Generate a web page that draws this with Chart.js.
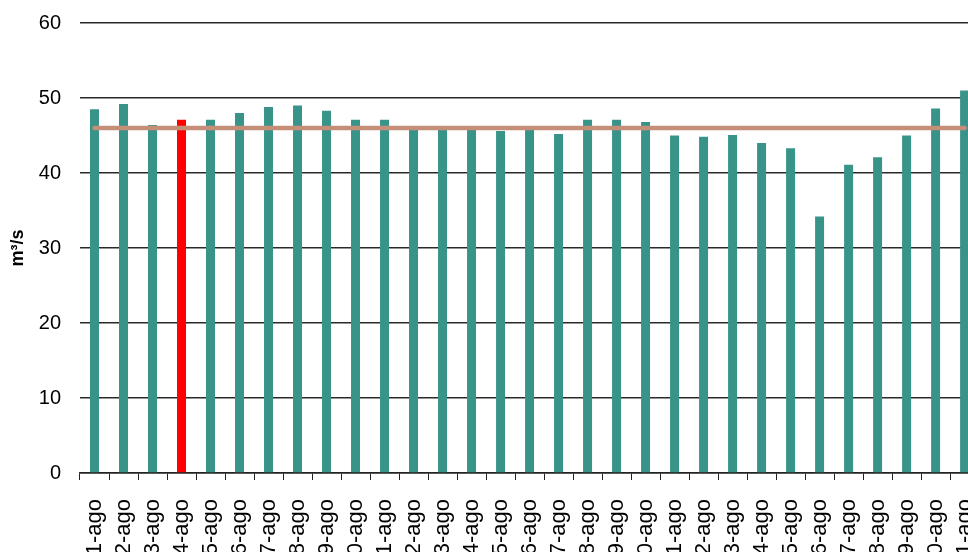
<!DOCTYPE html>
<html>
<head>
<meta charset="utf-8">
<script src="https://cdn.jsdelivr.net/npm/chart.js@4"></script>
<style>
  html, body { margin: 0; padding: 0; overflow: hidden; background: #ffffff; }
  #wrap { position: absolute; left: 0; top: 0; width: 1010px; height: 560px; }
</style>
</head>
<body>
<div id="wrap"><canvas id="chart"></canvas></div>
<script>
// Daily flow for August (m³/s)
const days = [
  '1-ago', '2-ago', '3-ago', '4-ago', '5-ago', '6-ago', '7-ago', '8-ago',
  '9-ago', '10-ago', '11-ago', '12-ago', '13-ago', '14-ago', '15-ago', '16-ago',
  '17-ago', '18-ago', '19-ago', '20-ago', '21-ago', '22-ago', '23-ago', '24-ago',
  '25-ago', '26-ago', '27-ago', '28-ago', '29-ago', '30-ago', '31-ago'
];
const dailyFlow = [
  48.5, 49.2, 46.4, 47.1, 47.1, 48.0, 48.8, 49.0,
  48.3, 47.1, 47.1, 45.8, 45.8, 45.8, 45.6, 45.8,
  45.2, 47.1, 47.1, 46.8, 45.0, 44.85, 45.07, 44.0,
  43.3, 34.2, 41.1, 42.1, 45.0, 48.6, 51.0
];
const highlightedDay = '4-ago';
const referenceFlow = 46;
const yTicks = [0, 10, 20, 30, 40, 50, 60];

const barColors = days.map(d => d === highlightedDay ? '#ff0000' : '#389488');
const referenceLine = days.map(() => referenceFlow);

const font = 'Liberation Sans, Arial, Helvetica, sans-serif';

new Chart(document.getElementById('chart'), {
  type: 'bar',
  data: {
    labels: days,
    datasets: [
      {
        type: 'line',
        data: referenceLine,
        borderColor: 'rgb(197,142,120)',
        borderWidth: 4.5,
        borderCapStyle: 'round',
        pointRadius: 0,
        fill: false,
        order: 0
      },
      {
        type: 'bar',
        data: dailyFlow,
        backgroundColor: barColors,
        borderWidth: 0,
        categoryPercentage: 1,
        barPercentage: 0.31,
        order: 1
      }
    ]
  },
  options: {
    responsive: true,
    maintainAspectRatio: false,
    animation: false,
    layout: { padding: { top: 23, left: 0, right: 0, bottom: 0 } },
    plugins: {
      legend: { display: false },
      tooltip: { enabled: false }
    },
    scales: {
      x: {
        grid: {
          offset: true,
          drawOnChartArea: false,
          drawTicks: true,
          tickLength: 7,
          color: '#222222'
        },
        border: { display: true, color: '#222222', width: 1.5 },
        ticks: {
          autoSkip: false,
          minRotation: 90,
          maxRotation: 90,
          padding: 19,
          color: '#000000',
          font: { family: font, size: 22 }
        },
        afterFit: s => { s.height = 87; }
      },
      y: {
        min: 0,
        max: 60,
        afterBuildTicks: s => { s.ticks = yTicks.map(v => ({ value: v })); },
        grid: {
          color: '#2a2a2a',
          lineWidth: 1.5,
          drawTicks: true,
          tickLength: 19,
          tickColor: 'rgba(0,0,0,0)'
        },
        border: { display: false },
        ticks: {
          padding: 0,
          color: '#000000',
          font: { family: font, size: 20 }
        },
        title: {
          display: true,
          text: 'm³/s',
          color: '#000000',
          padding: { top: 7, bottom: 0 },
          font: { family: font, size: 18, weight: 'bold' }
        },
        afterFit: s => { s.width = 80; }
      }
    }
  }
});
</script>
</body>
</html>
